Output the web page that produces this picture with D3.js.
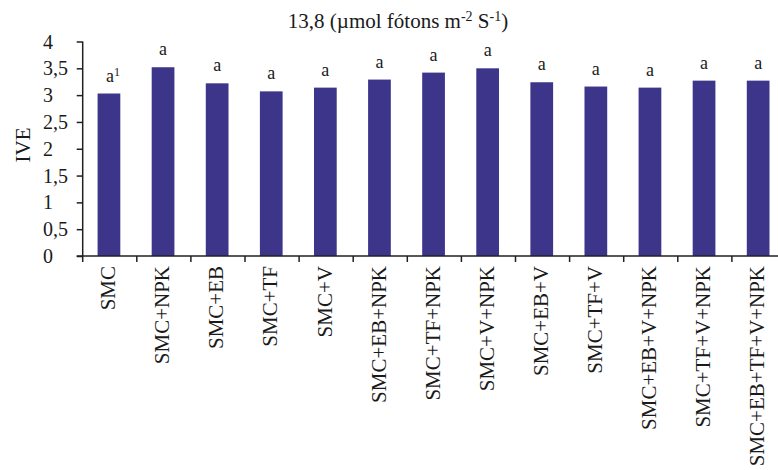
<!DOCTYPE html>
<html>
<head>
<meta charset="utf-8">
<script src="https://cdn.jsdelivr.net/npm/d3@7"></script>
<style>
  html, body { margin: 0; padding: 0; background: #fff; }
  svg { display: block; }
</style>
</head>
<body>
<svg id="chart" width="778" height="470"></svg>
<script>
// Treatments (x categories)
const categories = [
  "SMC", "SMC+NPK", "SMC+EB", "SMC+TF", "SMC+V", "SMC+EB+NPK",
  "SMC+TF+NPK", "SMC+V+NPK", "SMC+EB+V", "SMC+TF+V",
  "SMC+EB+V+NPK", "SMC+TF+V+NPK", "SMC+EB+TF+V+NPK"
];
// IVE per treatment
const values = [3.03, 3.52, 3.22, 3.07, 3.14, 3.29, 3.42, 3.50, 3.24, 3.16, 3.14, 3.27, 3.27];
// Mean-comparison letters
const letters = ["a", "a", "a", "a", "a", "a", "a", "a", "a", "a", "a", "a", "a"];
const yTicks = [0, 0.5, 1, 1.5, 2, 2.5, 3, 3.5, 4];

const FONT = "'Liberation Serif', 'Times New Roman', serif";
const svg = d3.select("#chart");
const ink = "#231f20";
const txt = "#1a1a1a";
const barColor = "#3c358a";

const x0 = 82.7, step = 54.1;
const x = d3.scaleBand()
  .domain(categories)
  .range([x0, x0 + step * categories.length])
  .padding(0);
const y = d3.scaleLinear().domain([0, 4]).range([256, 41.5]);
const barW = x.bandwidth() * 0.42;

function serif(sel, size) {
  return sel.style("font-family", FONT).style("font-size", size + "px").attr("fill", txt);
}

// Title
const title = serif(svg.append("text"), 21)
  .attr("x", 398).attr("y", 28)
  .attr("text-anchor", "middle");
title.append("tspan").text("13,8 (µmol fótons m");
title.append("tspan").attr("dy", -7).style("font-size", "14px").text("-2");
title.append("tspan").attr("dy", 7).text(" S");
title.append("tspan").attr("dy", -7).style("font-size", "14px").text("-1");
title.append("tspan").attr("dy", 7).text(")");

// Bars
svg.append("g").selectAll("rect")
  .data(categories)
  .join("rect")
  .attr("x", (d) => x(d) + (x.bandwidth() - barW) / 2 - 0.8)
  .attr("width", barW)
  .attr("y", (d, i) => y(values[i]))
  .attr("height", (d, i) => y(0) - y(values[i]))
  .attr("fill", barColor);

// Letters above bars
const lab = serif(svg.append("g").selectAll("text")
  .data(categories)
  .join("text"), 18)
  .attr("x", (d) => x(d) + x.bandwidth() / 2 - 0.8)
  .attr("y", (d, i) => y(values[i]) - 12)
  .attr("text-anchor", "middle");
lab.append("tspan").text((d, i) => letters[i]);
lab.filter((d, i) => i === 0)
  .attr("dx", 4)
  .append("tspan").attr("dy", -6).style("font-size", "12px").text("1");

// Y axis
const yAxis = svg.append("g")
  .attr("transform", `translate(${x0},0)`)
  .call(d3.axisLeft(y).tickValues(yTicks).tickSize(6)
    .tickFormat((d) => String(d).replace(".", ",")));
yAxis.attr("font-family", null).attr("font-size", null);
yAxis.select(".domain").attr("stroke", ink).attr("stroke-width", 1.5).attr("d", `M0,${y(4)}V${y(0)}`);
yAxis.selectAll(".tick line").attr("stroke", ink).attr("stroke-width", 1.5);
serif(yAxis.selectAll(".tick text"), 20)
  .attr("x", -39.7).attr("text-anchor", "start")
  .attr("dy", "0.33em");

// X axis line and boundary ticks
svg.append("line")
  .attr("x1", 76.7).attr("x2", 778)
  .attr("y1", y(0)).attr("y2", y(0))
  .attr("stroke", ink).attr("stroke-width", 1.5);
const bounds = categories.map((d) => x(d)).concat([x.range()[1]]);
svg.append("g").selectAll("line")
  .data(bounds)
  .join("line")
  .attr("x1", (d) => d).attr("x2", (d) => d)
  .attr("y1", y(0)).attr("y2", y(0) + 6)
  .attr("stroke", ink).attr("stroke-width", 1.5);

// Category labels, rotated
serif(svg.append("g").selectAll("text")
  .data(categories)
  .join("text"), 21)
  .attr("transform", (d) => `translate(${x(d) + x.bandwidth() / 2 - 2},266) rotate(-90)`)
  .attr("text-anchor", "end")
  .attr("dy", "0.35em")
  .text((d) => d);

// Y axis title
serif(svg.append("text"), 21)
  .attr("transform", "translate(22.5,145) rotate(-90)")
  .attr("text-anchor", "middle")
  .attr("dy", "0.35em")
  .text("IVE");
</script>
</body>
</html>
